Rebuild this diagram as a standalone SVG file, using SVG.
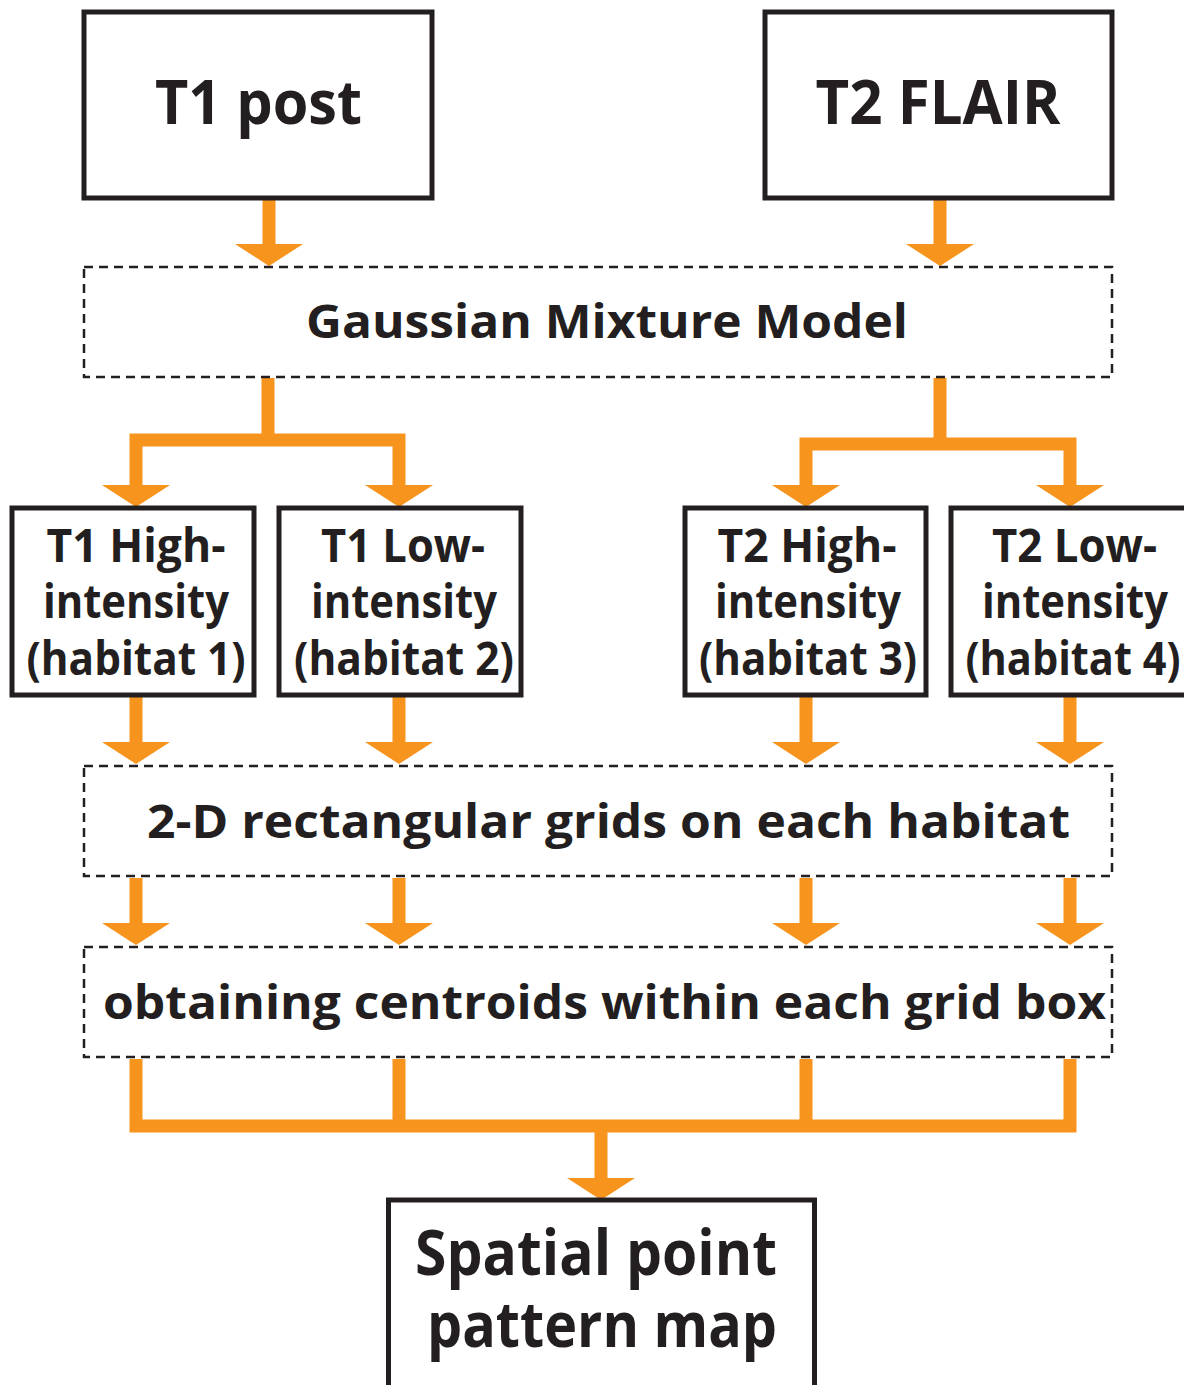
<svg xmlns="http://www.w3.org/2000/svg" xmlns:xlink="http://www.w3.org/1999/xlink" width="1184" height="1385" viewBox="0 0 1184 1385">
<defs>
<style>
.box{fill:#fff;stroke:#231f20;stroke-width:5}
.dash{fill:#fff;stroke:#231f20;stroke-width:2.5;stroke-dasharray:9 6}
.t{font-family:"Open Sans","Liberation Sans",sans-serif;font-weight:700;fill:#231f20;text-anchor:middle}
.big{font-size:60px}
.mid{font-size:46px}
.bar{fill:none;stroke:#f7941d;stroke-width:13;stroke-linejoin:miter;stroke-linecap:butt}
.head{fill:#f7941d}
</style>
<path id="ah" d="M-34,0 H34 L0,22 Z"/>
</defs>
<rect width="1184" height="1385" fill="#fff"/>

<g id="connectors">
<path class="bar" d="M269,199 V244 M940,199 V244"/>
<use href="#ah" class="head" x="269" y="244"/>
<use href="#ah" class="head" x="940" y="244"/>
<path class="bar" d="M268,378 V440 M136,486 V440 H399 V486"/>
<path class="bar" d="M940,378 V444 M806,486 V444 H1070 V486"/>
<use href="#ah" class="head" x="136" y="485"/>
<use href="#ah" class="head" x="399" y="485"/>
<use href="#ah" class="head" x="806" y="485"/>
<use href="#ah" class="head" x="1070" y="485"/>
<path class="bar" d="M136,697 V743 M399,697 V743 M806,697 V743 M1070,697 V743"/>
<use href="#ah" class="head" x="136" y="742"/>
<use href="#ah" class="head" x="399" y="742"/>
<use href="#ah" class="head" x="806" y="742"/>
<use href="#ah" class="head" x="1070" y="742"/>
<path class="bar" d="M136,878 V924 M399,878 V924 M806,878 V924 M1070,878 V924"/>
<use href="#ah" class="head" x="136" y="923"/>
<use href="#ah" class="head" x="399" y="923"/>
<use href="#ah" class="head" x="806" y="923"/>
<use href="#ah" class="head" x="1070" y="923"/>
<path class="bar" d="M136,1059 V1126 H1070 V1059 M399,1059 V1126 M806,1059 V1126 M601,1126 V1179"/>
<use href="#ah" class="head" x="601" y="1178"/>
</g>

<g id="t1post">
<rect class="box" x="84" y="12" width="348" height="186"/>
<text class="t big" x="258.5" y="124" textLength="207" lengthAdjust="spacingAndGlyphs">T1 post</text>
</g>
<g id="t2flair">
<rect class="box" x="765" y="12" width="347" height="186"/>
<text class="t big" x="938" y="124" textLength="245" lengthAdjust="spacingAndGlyphs">T2 FLAIR</text>
</g>
<g id="gmm">
<rect class="dash" x="84" y="267" width="1028" height="110"/>
<text class="t mid" x="607" y="338" textLength="602" lengthAdjust="spacingAndGlyphs">Gaussian Mixture Model</text>
</g>
<g id="habitat1">
<rect class="box" x="12" y="508" width="242" height="187"/>
<text class="t mid" x="136" y="562" textLength="179" lengthAdjust="spacingAndGlyphs">T1 High-</text>
<text class="t mid" x="136" y="618" textLength="186" lengthAdjust="spacingAndGlyphs">intensity</text>
<text class="t mid" x="136" y="675" textLength="219" lengthAdjust="spacingAndGlyphs">(habitat 1)</text>
</g>
<g id="habitat2">
<rect class="box" x="279" y="508" width="242" height="187"/>
<text class="t mid" x="403" y="562" textLength="164" lengthAdjust="spacingAndGlyphs">T1 Low-</text>
<text class="t mid" x="404" y="618" textLength="186" lengthAdjust="spacingAndGlyphs">intensity</text>
<text class="t mid" x="404" y="675" textLength="220" lengthAdjust="spacingAndGlyphs">(habitat 2)</text>
</g>
<g id="habitat3">
<rect class="box" x="685" y="508" width="241" height="187"/>
<text class="t mid" x="807" y="562" textLength="179" lengthAdjust="spacingAndGlyphs">T2 High-</text>
<text class="t mid" x="808" y="618" textLength="186" lengthAdjust="spacingAndGlyphs">intensity</text>
<text class="t mid" x="808" y="675" textLength="218" lengthAdjust="spacingAndGlyphs">(habitat 3)</text>
</g>
<g id="habitat4">
<rect class="box" x="951" y="508" width="244" height="187"/>
<text class="t mid" x="1074.5" y="562" textLength="165" lengthAdjust="spacingAndGlyphs">T2 Low-</text>
<text class="t mid" x="1075" y="618" textLength="186" lengthAdjust="spacingAndGlyphs">intensity</text>
<text class="t mid" x="1073" y="675" textLength="215" lengthAdjust="spacingAndGlyphs">(habitat 4)</text>
</g>
<g id="grids">
<rect class="dash" x="84" y="766" width="1028" height="110"/>
<text class="t mid" x="608.5" y="838" textLength="923" lengthAdjust="spacingAndGlyphs">2-D rectangular grids on each habitat</text>
</g>
<g id="centroids">
<rect class="dash" x="84" y="947" width="1028" height="110"/>
<text class="t mid" x="604.5" y="1019" textLength="1003" lengthAdjust="spacingAndGlyphs">obtaining centroids within each grid box</text>
</g>
<g id="sppmap">
<rect class="box" x="388.5" y="1200" width="426" height="195"/>
<text class="t" style="font-size:63px" x="596" y="1275" textLength="362" lengthAdjust="spacingAndGlyphs">Spatial point</text>
<text class="t" style="font-size:63px" x="602" y="1347" textLength="350" lengthAdjust="spacingAndGlyphs">pattern map</text>
</g>
</svg>
